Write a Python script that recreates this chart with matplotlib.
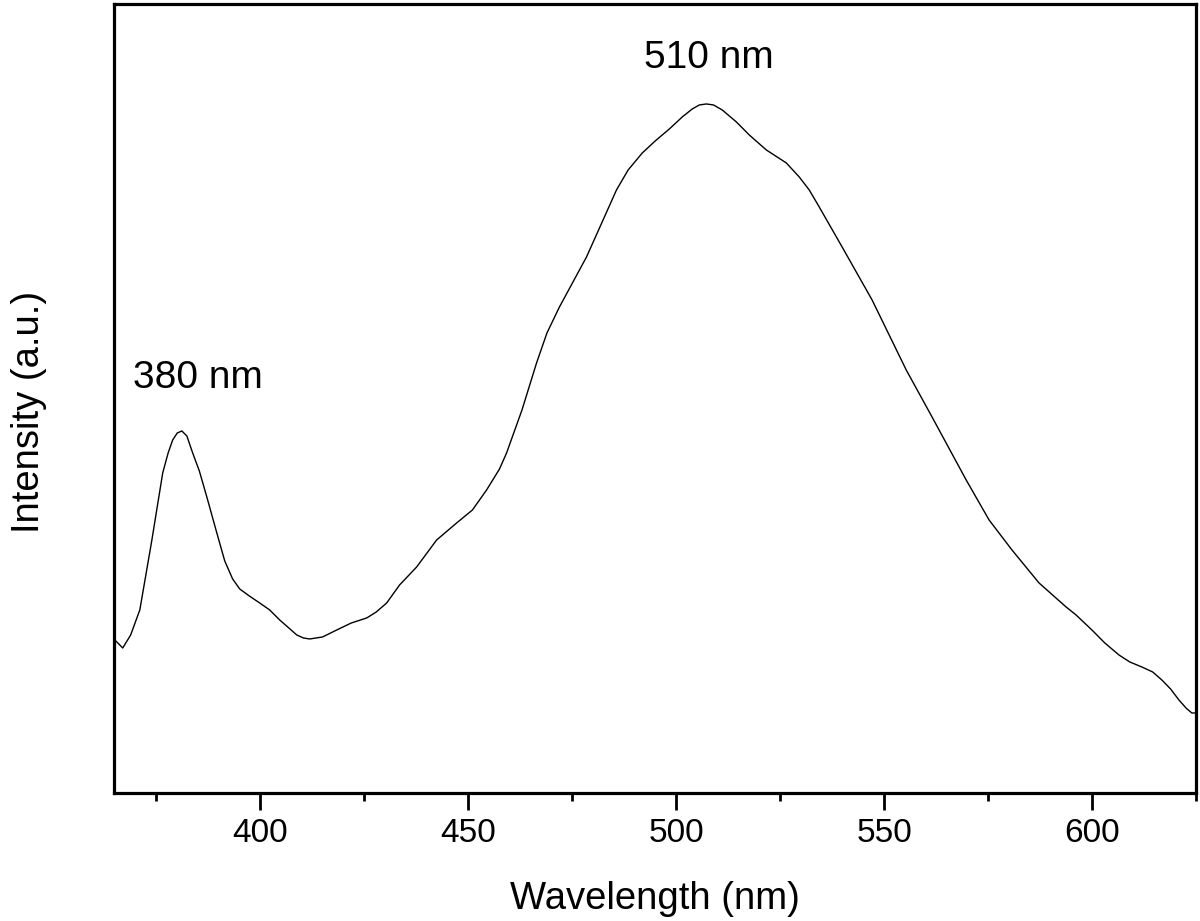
import matplotlib
matplotlib.use('Agg')
import matplotlib.pyplot as plt
from matplotlib.ticker import MultipleLocator, NullLocator

plt.rcParams['font.family'] = ['Liberation Sans', 'DejaVu Sans']

# emission spectrum (arbitrary units)
wavelength = [365.2, 367.1, 369.0, 371.2, 374.1, 376.7, 378.0, 379.1, 380.2, 381.3,
              382.5, 383.9, 385.5, 387.3, 389.7, 391.6, 393.5, 395.2, 397.5, 400.0,
              402.4, 404.8, 407.0, 408.9, 410.5, 412.0, 415.1, 418.5, 422.0, 425.7,
              428.0, 430.5, 433.6, 437.7, 442.5, 447.3, 451.1, 454.5, 457.6, 459.3,
              463.0, 466.5, 469.0, 472.0, 478.5, 485.7, 488.5, 491.9, 495.0, 498.4,
              501.5, 503.9, 505.6, 507.3, 509.0, 511.1, 514.5, 517.6, 521.7, 526.5,
              529.6, 532.0, 534.4, 539.9, 547.1, 555.3, 561.5, 569.7, 575.2, 580.7,
              587.2, 593.7, 596.1, 599.9, 603.0, 606.4, 609.0, 611.9, 614.5, 616.7,
              618.8, 620.8, 622.5, 623.9, 625.0]
intensity = [153, 145, 158, 183, 253, 320, 340, 353, 360, 362,
             357, 340, 322, 296, 260, 232, 214, 204, 197, 190,
             183, 173, 165, 158, 155, 154, 156, 163, 170, 175,
             181, 190, 208, 226, 253, 270, 283, 303, 324, 340,
             383, 430, 460, 486, 536, 603, 623, 640, 652, 664,
             676, 684, 688, 689, 688, 683, 671, 658, 643, 630,
             616, 603, 586, 546, 493, 423, 376, 313, 273, 243,
             210, 186, 178, 163, 150, 138, 131, 126, 121, 113,
             104, 93, 85, 80, 80]

peak_labels = ["380 nm", "510 nm"]
peak_label_x = [369.5, 492.4]
peak_label_y = [405, 725]

fig = plt.figure(figsize=(12, 9.21), dpi=100)
ax = fig.add_axes([0.095, 0.139, 0.902, 0.8567])

ax.plot(wavelength, intensity, color="black", linewidth=1.0)

for txt, tx, ty in zip(peak_labels, peak_label_x, peak_label_y):
    ax.text(tx, ty, txt, fontsize=28, ha="left", va="baseline")

ax.set_xlim(365, 625)
ax.set_ylim(0, 789)

ax.xaxis.set_major_locator(MultipleLocator(50))
ax.xaxis.set_minor_locator(MultipleLocator(25))
ax.yaxis.set_major_locator(NullLocator())
ax.tick_params(axis="x", which="major", direction="out", length=12, width=2,
               labelsize=24, pad=6)
ax.tick_params(axis="x", which="minor", direction="out", length=6, width=2)

for sp in ax.spines.values():
    sp.set_linewidth(2.3)

ax.set_xlabel("Wavelength (nm)", fontsize=27.5, labelpad=23)
ax.set_ylabel("Intensity (a.u.)", fontsize=27.5)
ax.yaxis.set_label_coords(-0.062, 0.483)

plt.savefig("out.png", dpi=100)
